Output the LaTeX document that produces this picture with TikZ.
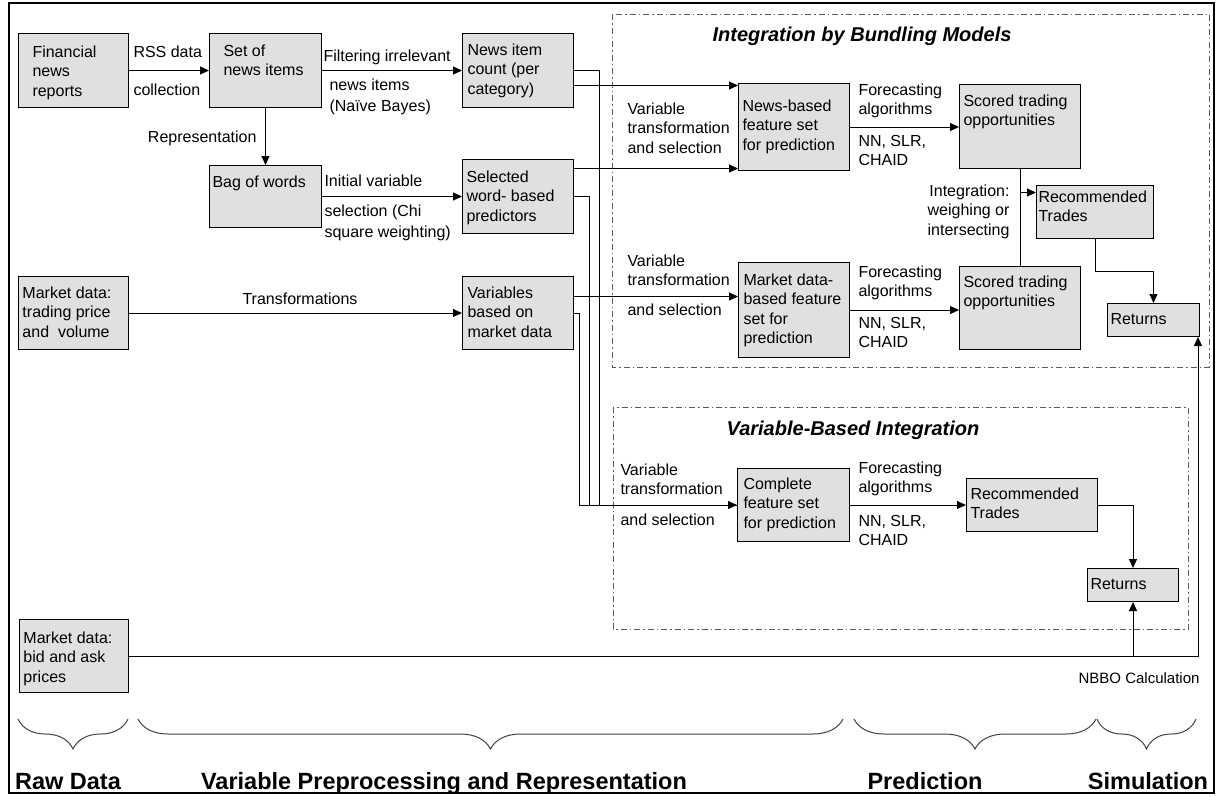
\documentclass[tikz,border=0pt]{standalone}
\usepackage{fontspec}
\setmainfont{Liberation Sans}
\usetikzlibrary{arrows.meta,calc,decorations.pathreplacing}
\definecolor{boxgray}{RGB}{224,224,224}
\definecolor{dashgray}{RGB}{90,90,90}
% box text: width, height, left pad, top offset, text
\newcommand{\bt}[5]{\parbox[c][#2pt][t]{#1pt}{\vspace*{#4pt}\raggedright\leftskip=#3pt\relax\strut#5}}
\newcommand{\lt}[1]{\begin{tabular}[t]{@{}l@{}}#1\end{tabular}}
\newcommand{\rt}[1]{\begin{tabular}[t]{@{}r@{}}#1\end{tabular}}
\begin{document}
\begin{tikzpicture}[x=1pt,y=-1pt,line width=1pt,
  font=\fontsize{16}{19.5}\selectfont,
  box/.style={draw, fill=boxgray, inner sep=0pt, anchor=north west},
  lab/.style={inner sep=0pt, anchor=base west},
  arr/.style={-{Triangle[length=9pt,width=8pt]}},
  region/.style={draw=dashgray, line width=1pt, dash pattern=on 6pt off 3pt on 1.5pt off 3pt},
  ttl/.style={inner sep=0pt, anchor=base, font=\fontsize{20}{24}\selectfont\bfseries\itshape},
  phase/.style={inner sep=0pt, anchor=base, font=\fontsize{23.5}{28}\selectfont\bfseries},
  brc/.style={decorate, decoration={brace, amplitude=30pt, mirror}, line width=1pt, draw=black!75}]
\useasboundingbox (0,0) rectangle (1219,796);
\draw[line width=2pt] (9,3) rectangle (1214,793);

% regions
\draw[region] (612,14) rectangle (1209,367);
\draw[region] (613,407) rectangle (1188,629);
\node[ttl] (t1) at (862,41) {Integration by Bundling Models};
\node[ttl] (t2) at (853,435) {Variable-Based Integration};

% boxes
\node[box] (fin) at (18,33) {\bt{110}{74}{14}{10}{Financial\\news\\reports}};
\node[box] (set) at (209,33) {\bt{112}{74}{14}{9}{Set of\\news items}};
\node[box] (count) at (462,33) {\bt{111}{74}{5}{8}{News item\\count (per\\category)}};
\node[box] (bag) at (209,165) {\bt{112}{62}{3}{8}{Bag of words}};
\node[box] (sel) at (462,159) {\bt{111}{74}{4}{9}{Selected\\word- based\\predictors}};
\node[box] (mkt) at (18,276) {\bt{110}{73}{4}{8}{Market data:\\trading price\\and\ \ volume}};
\node[box] (vars) at (462,276) {\bt{111}{73}{5}{8}{Variables\\based on\\market data}};
\node[box] (bid) at (19,619) {\bt{109}{73}{4}{10}{Market data:\\bid and ask\\prices}};
\node[box] (newsfeat) at (738,83) {\bt{111}{87}{4}{14}{News-based\\feature set\\for prediction}};
\node[box] (mktfeat) at (738,262) {\bt{111}{95}{5}{9}{Market data-\\based feature\\set for\\prediction}};
\node[box] (complete) at (737,468) {\bt{112}{73}{6}{7}{Complete\\feature set\\for prediction}};
\node[box] (score1) at (959,84) {\bt{121}{84}{4}{8}{Scored trading\\opportunities}};
\node[box] (score2) at (959,266) {\bt{121}{83}{4}{7}{Scored trading\\opportunities}};
\node[box] (rec1) at (1036,185) {\bt{117}{53}{2}{3}{Recommended\\Trades}};
\node[box] (ret1) at (1107,303) {\bt{92}{33}{3}{7}{Returns}};
\node[box] (rec2) at (966,478) {\bt{131}{53}{4}{7}{Recommended\\Trades}};
\node[box] (ret2) at (1087,568) {\bt{91}{33}{3}{7}{Returns}};

% labels
\node[lab] (lrss) at (133,57) {RSS data};
\node[lab] (lcol) at (133,95) {collection};
\node[lab] (lfilt) at (323,61) {Filtering irrelevant};
\node[lab] (lni) at (329,90) {news items};
\node[lab] (lnb) at (329,111) {(Naïve Bayes)};
\node[lab, anchor=base east] (lrep) at (257,142) {Representation};
\node[lab] (liv) at (324,186) {Initial variable};
\node[lab] (lsel) at (324,216) {selection (Chi};
\node[lab] (lsq) at (324,237) {square weighting)};
\node[lab, anchor=base] (ltr) at (300,304) {Transformations};
\node[lab] (lvt1) at (627,114) {\lt{Variable\\transformation\\and selection}};
\node[lab] (lvt2) at (627,266) {\lt{Variable\\transformation}};
\node[lab] (las2) at (627,315) {and selection};
\node[lab] (lvt3) at (620,475) {\lt{Variable\\transformation}};
\node[lab] (las3) at (620,525) {and selection};
\node[lab] (lfa1) at (858,95) {\lt{Forecasting\\algorithms}};
\node[lab] (lnn1) at (858,146) {\lt{NN, SLR,\\CHAID}};
\node[lab] (lfa2) at (858,277) {\lt{Forecasting\\algorithms}};
\node[lab] (lnn2) at (858,328) {\lt{NN, SLR,\\CHAID}};
\node[lab] (lfa3) at (858,473) {\lt{Forecasting\\algorithms}};
\node[lab] (lnn3) at (858,526) {\lt{NN, SLR,\\CHAID}};
\node[lab, anchor=base east] (lint) at (1010,196) {\rt{Integration:\\weighing or\\intersecting}};
\node[lab, anchor=base east, font=\fontsize{15}{18}\selectfont] (lnbbo) at (1200,683) {NBBO Calculation};

% connectors
\draw[arr] (fin.east) -- (set.west);
\draw[arr] (set.east) -- (count.west);
\draw[arr] (set.south) -- (bag.north);
\draw[arr] (bag.east) -- (sel.west);
\draw[arr] (mkt.east) -- (vars.west);
\draw[arr] ($(count.east)+(0,15)$) coordinate (c1) -- (c1 -| newsfeat.west);
\draw[arr] ($(sel.east)+(0,-28)$) coordinate (c2) -- (c2 -| newsfeat.west);
\draw[arr] ($(vars.east)+(0,-16.5)$) coordinate (c3) -- (c3 -| mktfeat.west);
\draw (count.east) -- ++(25,0) |- (complete.west);
\draw (sel.east) -- ++(15,0) |- (complete.west);
\draw[arr] (vars.east) -- ++(5,0) |- (complete.west);
\draw[arr] (newsfeat.east) -- (newsfeat.east -| score1.west);
\draw[arr] (mktfeat.east) -- (mktfeat.east -| score2.west);
\draw[arr] (complete.east) -- (complete.east -| rec2.west);
\draw (score1.south) -- (score2.north);
\path ($(rec1.west)+(0,-19.5)$) coordinate (c4);
\draw[arr] (c4 -| score1.south) -- (c4);
\draw[arr] (rec1.south) |- ($(ret1.north)+(0,-32)$) -- (ret1.north);
\draw[arr] (rec2.east) -| (ret2.north);
\draw[arr] (bid.east) -| ($(ret1.south east)+(-2,0)$);
\draw[arr] (ret2.south |- bid.east) -- (ret2.south);

% braces and phase labels
\draw[brc] (18,719) -- (128,719);
\draw[brc] (138,719) -- (843,719);
\draw[brc] (854,719) -- (1096,719);
\draw[brc] (1097,719) -- (1196,719);
\node[phase] (p1) at (68,789) {Raw Data};
\node[phase] (p2) at (444,789) {Variable Preprocessing and Representation};
\node[phase] (p3) at (925,789) {Prediction};
\node[phase] (p4) at (1148,789) {Simulation};
\end{tikzpicture}
\end{document}
